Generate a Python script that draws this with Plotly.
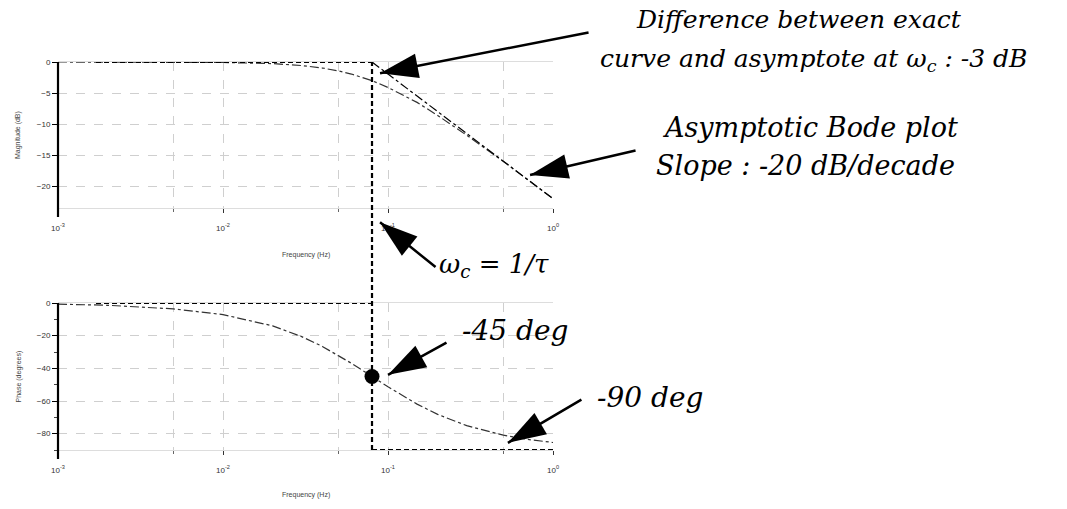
import numpy as np
import plotly.graph_objects as go

W, H = 1067, 509

# ---------------- data ----------------
omega_c = 0.08  # corner frequency (Hz)

freq = [0.001, 0.002, 0.005, 0.01, 0.02, 0.03, 0.04, 0.05, 0.06, 0.08,
        0.1, 0.15, 0.2, 0.3, 0.5, 0.7, 1.0]
mag_exact = [0.0, 0.0, -0.02, -0.07, -0.26, -0.57, -0.97, -1.43, -1.94, -3.0,
             -4.1, -6.5, -8.6, -11.8, -16.0, -18.9, -22.0]
phase_exact = [-0.7, -1.4, -3.6, -7.1, -14.0, -20.6, -26.6, -32.0, -36.9, -45.0,
               -51.3, -61.9, -68.2, -75.1, -80.9, -83.5, -85.4]

mag_asym_flat_f = [0.0017, omega_c]
mag_asym_flat = [0, 0]
mag_asym_slope_f = [omega_c, 1.0]
mag_asym_slope = [0, -22.0]

phase_asym_low_f = [0.0017, omega_c]
phase_asym_low = [0, 0]
phase_asym_high_f = [omega_c, 1.0]
phase_asym_high = [-90, -90]

phase_point_f = [omega_c]
phase_point = [-45]

x_tickvals = [0.001, 0.01, 0.1, 1]
x_ticktext = ["10<sup>-3</sup>", "10<sup>-2</sup>", "10<sup>-1</sup>", "10<sup>0</sup>"]
x_minor = [0.005, 0.05, 0.5]
mag_ticks = [0, -5, -10, -15, -20]
phase_ticks = [0, -20, -40, -60, -80]
mag_range = [-23.5, 0]
phase_range = [-90, 0]

# arrows: (panel, tip freq, tip value, tail offset px x, tail offset px y)
arrows = [("top", 0.0895, -1.8, 210, -41),
          ("top", 0.726, -18.2, 107, -25),
          ("top", 0.0895, -25.8, 57, 46),
          ("bot", 0.1, -44, 60, -33),
          ("bot", 0.533, -85.6, 75, -44)]

# ---------------- layout geometry ----------------
px_l, px_r = 58, 553
top_t, top_b = 62, 208
bot_t, bot_b = 303, 450
xdom = [px_l / W, px_r / W]
ydom_top = [1 - top_b / H, 1 - top_t / H]
ydom_bot = [1 - bot_b / H, 1 - bot_t / H]
xlog_range = [-3, 0]


def to_px(panel, f, v):
    x = px_l + (np.log10(f) - xlog_range[0]) / (xlog_range[1] - xlog_range[0]) * (px_r - px_l)
    if panel == "top":
        y = top_t + (mag_range[1] - v) / (mag_range[1] - mag_range[0]) * (top_b - top_t)
    else:
        y = bot_t + (phase_range[1] - v) / (phase_range[1] - phase_range[0]) * (bot_b - bot_t)
    return float(x), float(y)


fig = go.Figure()

line_dashdot = dict(color="#333333", width=1.2, dash="dashdot")
line_heavy = dict(color="black", width=2.2, dash="5px,3px")

# top panel
fig.add_trace(go.Scatter(x=freq, y=mag_exact, mode="lines", line=line_dashdot,
                         xaxis="x", yaxis="y", showlegend=False))
fig.add_trace(go.Scatter(x=mag_asym_slope_f, y=mag_asym_slope, mode="lines",
                         line=dict(color="black", width=1.2, dash="dashdot"),
                         xaxis="x", yaxis="y", showlegend=False))
fig.add_trace(go.Scatter(x=mag_asym_flat_f, y=mag_asym_flat, mode="lines", line=line_heavy,
                         xaxis="x", yaxis="y", showlegend=False, cliponaxis=False))

# bottom panel
fig.add_trace(go.Scatter(x=freq, y=phase_exact, mode="lines", line=line_dashdot,
                         xaxis="x2", yaxis="y2", showlegend=False))
fig.add_trace(go.Scatter(x=phase_asym_low_f, y=phase_asym_low, mode="lines", line=line_heavy,
                         xaxis="x2", yaxis="y2", showlegend=False, cliponaxis=False))
fig.add_trace(go.Scatter(x=phase_asym_high_f, y=phase_asym_high, mode="lines", line=line_heavy,
                         xaxis="x2", yaxis="y2", showlegend=False, cliponaxis=False))
fig.add_trace(go.Scatter(x=phase_point_f, y=phase_point, mode="markers",
                         marker=dict(color="black", size=15),
                         xaxis="x2", yaxis="y2", showlegend=False))

# vertical asymptote line at omega_c spanning both panels
xc_px, _ = to_px("top", omega_c, 0)
fig.add_shape(type="line", xref="paper", yref="paper", x0=xc_px / W, x1=xc_px / W,
              y0=ydom_bot[0], y1=ydom_top[1],
              line=dict(color="black", width=2.2, dash="5px,3px"))

# left axis lines (extend slightly below each panel)
for t, b in [(top_t, top_b), (bot_t, bot_b)]:
    fig.add_shape(type="line", xref="paper", yref="paper", x0=px_l / W, x1=px_l / W,
                  y0=1 - (b + 9) / H, y1=1 - t / H, layer="above",
                  line=dict(color="black", width=2.2))

# arrows on a full-figure pixel overlay
hx, hy, hang = [], [], []
for panel, f, v, dx, dy in arrows:
    tx, ty = to_px(panel, f, v)
    fig.add_annotation(x=tx, y=ty, xref="x3", yref="y3", ax=tx + dx, ay=ty + dy,
                       axref="x3", ayref="y3", text="", showarrow=True,
                       arrowhead=0, arrowwidth=2.5, arrowcolor="black", standoff=0)
    hx.append(tx)
    hy.append(ty)
    hang.append(float(np.degrees(np.arctan2(-dx, dy))))
fig.add_trace(go.Scatter(x=hx, y=hy, mode="markers", cliponaxis=False,
                         marker=dict(symbol="arrow", size=40, angle=hang, color="black",
                                     line=dict(width=0)),
                         xaxis="x3", yaxis="y3", showlegend=False, hoverinfo="skip"))

# text annotations
f25 = dict(family="DejaVu Serif", size=25, color="black", style="italic")
f27 = dict(family="DejaVu Serif", size=27, color="black", style="italic")
f26 = dict(family="DejaVu Serif", size=26, color="black", style="italic")
f28 = dict(family="DejaVu Serif", size=28, color="black", style="italic")
texts = [
    ("Difference between exact", 799, 20, f25),
    ("curve and asymptote at ω<sub>c</sub> : -3 dB", 813, 60, f25),
    ("Asymptotic Bode plot", 810, 127, f27),
    ("Slope : -20 dB/decade", 805, 165, f27),
    ("ω<sub>c</sub> = 1/τ", 494, 265, f26),
    ("-45 deg", 515, 330, f28),
    ("-90 deg", 650, 397, f28),
]
for t, px, py, fnt in texts:
    fig.add_annotation(x=px / W, y=1 - py / H, xref="paper", yref="paper", text=t,
                       showarrow=False, xanchor="center", yanchor="middle", font=fnt)

small = dict(family="Liberation Sans", size=7, color="#444444")
axis_titles = [
    ("Magnitude (dB)", 18, (top_t + top_b) / 2, -90),
    ("Phase (degrees)", 18, (bot_t + bot_b) / 2, -90),
    ("Frequency (Hz)", (px_l + px_r) / 2, 255, 0),
    ("Frequency (Hz)", (px_l + px_r) / 2, 495, 0),
]
for t, px, py, ang in axis_titles:
    fig.add_annotation(x=px / W, y=1 - py / H, xref="paper", yref="paper", text=t,
                       showarrow=False, textangle=ang, xanchor="center", yanchor="middle", font=small)

grid = dict(showgrid=True, gridcolor="#cfcfcf", griddash="dash", gridwidth=1)
tickfont = dict(family="Liberation Sans", size=8, color="#333333")

xaxis_common = dict(type="log", range=xlog_range, domain=xdom, tickvals=x_tickvals,
                    ticktext=x_ticktext, ticks="outside", ticklen=4, tickcolor="#333333",
                    showline=True, linecolor="#dddddd", linewidth=1, mirror=True,
                    tickfont=tickfont, zeroline=False, automargin=False,
                    ticklabelstandoff=8,
                    minor=dict(tickvals=x_minor, ticks="outside", ticklen=3, tickcolor="#666666",
                               showgrid=True, gridcolor="#cfcfcf", griddash="dash"),
                    **grid)
yaxis_common = dict(showline=False, ticks="outside", automargin=False,
                    ticklen=5, tickcolor="black", tickfont=tickfont, zeroline=False, **grid)

fig.update_layout(
    width=W, height=H,
    margin=dict(l=0, r=0, t=0, b=0),
    paper_bgcolor="white", plot_bgcolor="rgba(0,0,0,0)",
    showlegend=False,
    xaxis=dict(anchor="y", **xaxis_common),
    yaxis=dict(anchor="x", domain=ydom_top, range=mag_range, tickvals=mag_ticks, **yaxis_common),
    xaxis2=dict(anchor="y2", **xaxis_common),
    yaxis2=dict(anchor="x2", domain=ydom_bot, range=phase_range, tickvals=phase_ticks,
                minor=dict(dtick=10, ticks="outside", ticklen=3, tickcolor="#444444"),
                **yaxis_common),
    xaxis3=dict(domain=[0, 1], range=[0, W], visible=False, anchor="y3", fixedrange=True),
    yaxis3=dict(domain=[0, 1], range=[H, 0], visible=False, anchor="x3", fixedrange=True),
)

fig.write_html("out.html", config={"displayModeBar": False},
               post_script="document.body.style.margin='0px';document.body.style.overflow='hidden';")
